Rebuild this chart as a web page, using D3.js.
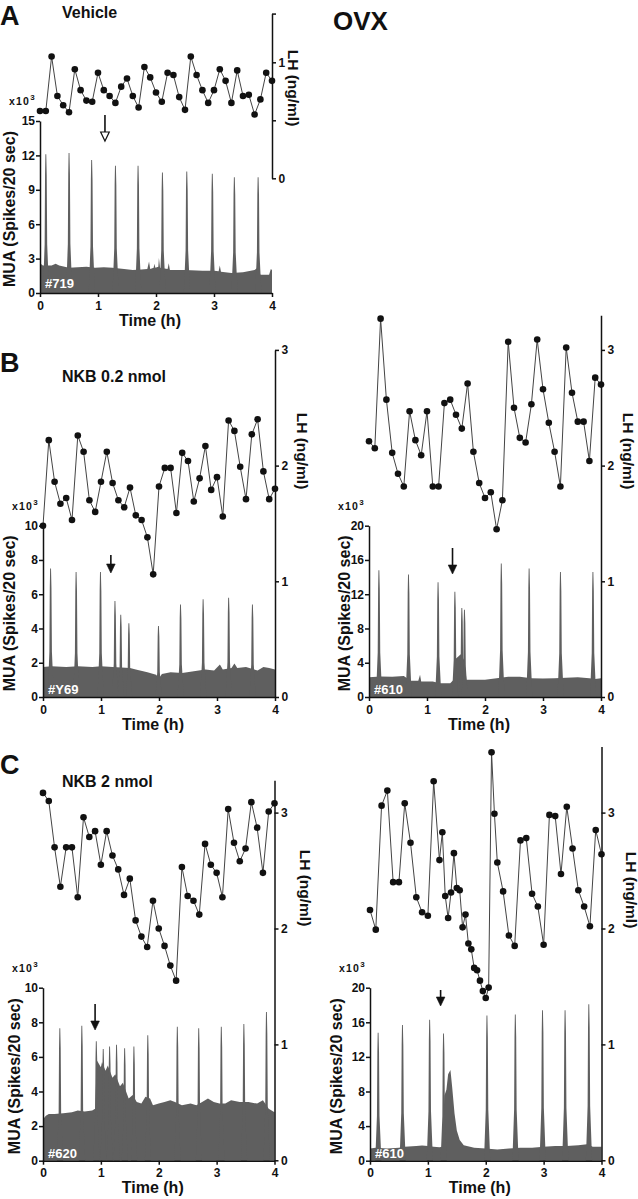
<!DOCTYPE html>
<html>
<head>
<meta charset="utf-8">
<script src="https://cdn.jsdelivr.net/npm/d3@7"></script>
<style>
  body { margin: 0; background: #fff; }
  svg { display: block; font-family: "Liberation Sans", Arial, Helvetica, sans-serif; font-weight: bold; }
</style>
</head>
<body>
<div id="chart"></div>
<script>
// ---- data ----
// LH sampling times (h), every 6 min
const lhTimes = [0,0.1,0.2,0.3,0.4,0.5,0.6,0.7,0.8,0.9,1.0,1.1,1.2,1.3,1.4,1.5,1.6,1.7,1.8,1.9,2.0,
  2.1,2.2,2.3,2.4,2.5,2.6,2.7,2.8,2.9,3.0,3.1,3.2,3.3,3.4,3.5,3.6,3.7,3.8,3.9,4.0];
// C right: denser sampling after injection
const lhTimesCR = [0,0.1,0.2,0.3,0.4,0.5,0.6,0.7,0.8,0.9,1.0,1.1,1.2,
  1.25,1.3,1.35,1.4,1.45,1.5,1.55,1.6,1.65,1.7,1.75,1.8,1.85,1.9,1.95,2.0,2.05,2.1,2.15,2.2,
  2.3,2.4,2.5,2.6,2.7,2.8,2.9,3.0,3.1,3.2,3.3,3.4,3.5,3.6,3.7,3.8,3.9,4.0];

// LH (ng/ml)
const lhA  = [0.58,0.58,1.05,0.71,0.63,0.57,0.94,0.76,0.67,0.66,0.91,0.76,0.71,0.65,0.79,0.86,0.71,0.61,0.96,0.87,0.74,
  0.66,0.91,0.89,0.70,0.59,1.05,0.89,0.76,0.65,0.76,0.94,0.84,0.65,0.93,0.71,0.72,0.55,0.68,0.91,0.84];
const lhBL = [1.48,2.22,1.86,1.67,1.72,1.53,2.26,2.12,1.70,1.60,1.86,2.12,1.85,1.70,1.64,1.81,1.57,1.53,1.38,1.06,1.82,
  1.98,1.98,1.59,2.11,2.04,1.69,1.89,2.17,1.79,1.90,1.56,2.39,2.30,1.99,1.71,2.27,2.40,1.95,1.71,1.80];
const lhBR = [2.21,2.15,3.27,2.57,2.11,1.93,1.82,2.47,2.22,2.09,2.47,1.82,1.82,2.54,2.57,2.44,2.32,2.71,2.12,1.85,1.72,
  1.77,1.45,1.70,3.07,2.50,2.24,2.20,2.53,3.09,2.66,2.37,2.12,1.82,3.02,2.63,2.38,2.38,2.04,2.76,2.70];
const lhCL = [3.17,3.10,2.70,2.36,2.70,2.70,2.27,2.96,2.79,2.84,2.55,2.84,2.63,2.51,2.29,2.43,2.07,1.93,1.84,2.24,2.00,
  1.85,1.68,1.55,2.53,2.28,2.24,2.12,2.73,2.55,2.48,2.27,3.03,2.74,2.58,2.69,3.09,2.87,2.48,3.01,3.08];
const lhCR = [2.16,1.99,3.06,3.19,2.40,2.40,3.08,2.74,2.27,2.14,2.11,3.27,2.59,
  2.83,2.28,2.09,2.31,2.65,2.35,2.33,2.01,2.12,1.87,1.82,1.66,1.64,1.55,1.46,1.40,1.49,3.52,2.99,2.57,
  2.32,1.94,1.85,2.76,2.78,2.30,2.19,1.86,2.98,2.97,2.47,3.05,2.69,2.33,2.19,2.02,2.85,2.64];

// MUA background level, [time h, spikes x10^3]
const muaBaseA = [[0,2.6],[0.05,2.4],[0.2,2.4],[0.27,2.55],[0.33,2.4],[0.5,2.2],[0.8,2.3],[0.95,2.2],[1.1,2.25],
  [1.25,2.2],[1.45,2.1],[1.6,2.0],[1.75,2.05],[1.85,2.1],[1.88,2.75],[1.9,2.1],[1.96,2.2],[1.97,2.55],[1.99,2.2],
  [2.04,2.3],[2.05,3.05],[2.07,2.2],[2.2,2.1],[2.22,2.6],[2.24,2.0],[2.5,2.0],[2.8,1.95],[3.0,1.95],[3.08,1.9],
  [3.1,2.4],[3.12,1.85],[3.3,1.75],[3.5,1.8],[3.7,2.0],[3.75,2.2],[3.8,1.6],[3.95,1.6],[3.98,2.1],[4.0,2.0]];
const muaBaseBL = [[0,1.75],[0.15,1.8],[0.4,1.75],[0.6,1.8],[0.85,1.75],[1.0,1.8],[1.2,1.75],[1.5,1.7],[1.6,1.6],
  [1.8,1.45],[1.95,1.3],[2.0,1.1],[2.05,1.35],[2.2,1.45],[2.4,1.4],[2.6,1.5],[2.8,1.6],[2.95,1.55],[3.05,1.9],
  [3.1,1.6],[3.25,1.7],[3.3,1.95],[3.35,1.7],[3.5,1.75],[3.7,1.55],[3.8,1.75],[3.9,1.7],[4.0,1.6]];
const muaBaseBR = [[0,2.3],[0.2,2.4],[0.4,2.35],[0.6,2.45],[0.72,1.9],[0.85,1.9],[0.88,2.6],[0.9,1.8],[1.1,1.8],
  [1.22,1.6],[1.4,1.6],[1.46,2.0],[1.5,4.5],[1.55,4.8],[1.58,5.0],[1.65,4.2],[1.68,2.0],[1.8,2.0],[2.0,2.0],
  [2.2,2.2],[2.4,2.35],[2.6,2.35],[2.8,2.2],[3.0,2.15],[3.2,2.2],[3.4,2.25],[3.6,2.3],[3.8,2.2],[3.9,2.1],[4.0,2.2]];
const muaBaseCL = [[0,2.4],[0.05,2.6],[0.1,2.7],[0.2,2.7],[0.35,2.75],[0.5,2.8],[0.6,2.9],[0.72,2.85],[0.85,2.9],
  [0.9,3.0],[0.93,5.8],[1.0,5.4],[1.02,5.7],[1.08,5.2],[1.12,5.5],[1.2,4.8],[1.25,5.0],[1.33,4.3],[1.38,4.5],
  [1.48,3.6],[1.55,3.8],[1.62,3.4],[1.7,3.3],[1.77,3.7],[1.85,3.6],[1.9,3.2],[2.0,3.3],[2.1,3.4],[2.2,3.5],
  [2.28,3.4],[2.4,3.2],[2.55,3.3],[2.65,3.2],[2.75,3.4],[2.85,3.6],[2.95,3.4],[3.05,3.3],[3.15,3.3],[3.25,3.5],
  [3.4,3.4],[3.55,3.4],[3.7,3.3],[3.8,3.5],[3.9,3.0],[4.0,2.8]];
const muaBaseCR = [[0,1.4],[0.1,1.5],[0.3,1.4],[0.5,1.5],[0.6,1.6],[0.8,1.7],[0.9,1.75],[1.0,1.7],[1.1,1.6],
  [1.2,1.55],[1.25,1.6],[1.285,7.5],[1.32,8.2],[1.35,10.0],[1.39,10.5],[1.42,8.5],[1.46,5.5],[1.5,3.5],[1.55,2.4],
  [1.62,1.8],[1.8,1.5],[2.0,1.4],[2.2,1.3],[2.4,1.4],[2.6,1.5],[2.8,1.5],[3.0,1.6],[3.2,1.7],[3.4,1.7],[3.6,1.8],
  [3.75,1.9],[3.85,1.6],[4.0,1.6]];

// MUA volleys, [time h, peak x10^3]
const peaksA  = [[0.10,12.1],[0.50,12.2],[0.89,11.6],[1.30,11.1],[1.69,11.1],[2.11,10.5],[2.53,10.6],[2.97,10.4],[3.35,10.1],[3.76,10.1]];
const peaksBL = [[0.13,7.5],[0.57,7.3],[0.99,7.3],[1.24,5.6],[1.34,4.8],[1.48,4.3],[1.99,4.15],[2.37,5.4],[2.76,5.7],[3.20,5.8],[3.61,5.4]];
const peaksBR = [[0.17,14.8],[0.68,14.3],[1.19,13.4],[1.48,12.3],[1.60,10.4],[1.645,10.2],[2.28,15.6],[2.76,15.0],[3.30,14.6],[3.86,14.6]];
const peaksCL = [[0.29,7.65],[0.67,7.8],[0.92,6.9],[1.04,6.45],[1.15,6.6],[1.27,6.7],[1.41,6.5],[1.57,6.6],[1.81,7.25],
  [2.32,7.75],[2.69,7.65],[3.08,7.75],[3.47,7.9],[3.86,8.6]];
const peaksCR = [[0.14,14.8],[0.56,15.7],[1.03,16.3],[1.27,14.7],[2.02,16.8],[2.51,16.9],[2.98,17.4],[3.37,17.4],[3.78,18.1]];

// injection times (h)
const injA = 1.12, injBL = 1.17, injBR = 1.44, injCL = 0.90, injCR = 1.22;

const timeTicks = [0, 1, 2, 3, 4];
const muaTicks10 = [0, 2, 4, 6, 8, 10];
const muaTicks15 = [0, 3, 6, 9, 12, 15];
const muaTicks20 = [0, 4, 8, 12, 16, 20];
const lhTicksA = [0, 0.5, 1, 1.42];
const lhTicks3 = [0, 1, 2, 3];

// ---- drawing ----
const ink = "#111";
const muaColor = "#5f5f5f";
const spikeW = 0.05;

const svg = d3.select("#chart").append("svg")
    .attr("width", 638)
    .attr("height", 1199);

function drawPanel(p) {
  const g = svg.append("g");

  const x = d3.scaleLinear().domain([0, 4]).range([p.x0, p.x1]);
  const yM = d3.scaleLinear().domain([0, p.muaMax]).range([p.y0, p.muaTopPx]);
  const yL = d3.scaleLinear().domain([0, p.lhTop]).range([p.lh0, p.lh0 - p.lhTop * p.lhUnit]);

  const area = d3.area()
      .x(d => x(d[0]))
      .y0(yM(0))
      .y1(d => yM(d[1]));

  g.append("path")
      .datum(p.base)
      .attr("fill", muaColor)
      .attr("d", area);

  // each volley: narrow column with a flared foot
  g.selectAll("path.spike")
    .data(p.peaks)
    .join("path")
      .attr("class", "spike")
      .attr("fill", muaColor)
      .attr("d", d => area([
        [d[0] - spikeW, 0],
        [d[0] - 0.02, d[1] * 0.35],
        [d[0] - 0.013, d[1] * 0.85],
        [d[0] - 0.007, d[1]],
        [d[0] + 0.008, d[1]],
        [d[0] + 0.016, d[1] * 0.85],
        [d[0] + 0.024, d[1] * 0.35],
        [d[0] + spikeW * 1.15, 0]
      ]));

  // axes
  const styleAxis = sel => {
    sel.attr("font-family", null).attr("font-size", 12);
    sel.selectAll("path, line").attr("stroke", ink).attr("stroke-width", 1.5);
    sel.selectAll("text").attr("fill", ink);
  };

  g.append("g")
      .attr("transform", `translate(${p.x0},0)`)
      .call(d3.axisLeft(yM).tickValues(p.muaTicks).tickSize(4).tickSizeOuter(0).tickPadding(1)
        .tickFormat(d3.format("d")))
      .call(styleAxis);

  g.append("g")
      .attr("transform", `translate(0,${p.y0})`)
      .call(d3.axisBottom(x).tickValues(timeTicks).tickSize(4).tickSizeOuter(0).tickPadding(4)
        .tickFormat(d3.format("d")))
      .call(styleAxis);

  g.append("g")
      .attr("transform", `translate(${p.x1},0)`)
      .call(d3.axisRight(yL).tickValues(p.lhTicks).tickSize(4).tickSizeOuter(0).tickPadding(2.5)
        .tickFormat(d => p.lhLabeled.includes(d) ? d : ""))
      .call(styleAxis);

  // LH series
  const pts = p.lhT.map((t, i) => [t, p.lh[i]]);
  g.append("path")
      .datum(pts)
      .attr("fill", "none")
      .attr("stroke", "#444")
      .attr("stroke-width", 1)
      .attr("d", d3.line().x(d => x(d[0])).y(d => yL(d[1])));

  g.selectAll("circle")
    .data(pts)
    .join("circle")
      .attr("cx", d => x(d[0]))
      .attr("cy", d => yL(d[1]))
      .attr("r", 3.3)
      .attr("fill", ink);

  // injection arrow
  const ax = x(p.inj), head = 9, hw = 4.3;
  g.append("line")
      .attr("x1", ax).attr("x2", ax)
      .attr("y1", p.arrowY[0]).attr("y2", p.arrowY[1] - head + 1)
      .attr("stroke", ink).attr("stroke-width", 1.6);
  g.append("path")
      .attr("d", `M${ax - hw},${p.arrowY[1] - head}L${ax + hw},${p.arrowY[1] - head}L${ax},${p.arrowY[1]}Z`)
      .attr("fill", p.hollow ? "#fff" : ink)
      .attr("stroke", ink)
      .attr("stroke-width", p.hollow ? 1.2 : 0.6);

  // labels
  g.append("text")
      .attr("x", p.x0 + 5).attr("y", p.y0 + p.tagDy)
      .attr("fill", "#fff").attr("font-size", 13)
      .text(p.tag);

  const mult = g.append("text")
      .attr("x", p.x0 - 31).attr("y", p.muaTopPx - 16)
      .attr("font-size", 10.5).attr("letter-spacing", 1.2).attr("fill", ink)
      .text("x10");
  mult.append("tspan").attr("dy", -5).attr("font-size", 8).text("3");

  g.append("text")
      .attr("x", (p.x0 + p.x1) / 2 - 6).attr("y", p.y0 + 32.5)
      .attr("text-anchor", "middle").attr("font-size", 16).attr("fill", ink)
      .text("Time (h)");

  g.append("text")
      .attr("transform", `translate(${p.muaLabelX},${(p.y0 + p.muaTopPx) / 2 + 2}) rotate(-90)`)
      .attr("text-anchor", "middle").attr("dominant-baseline", "central")
      .attr("font-size", 16).attr("fill", ink)
      .text("MUA (Spikes/20 sec)");

  g.append("text")
      .attr("transform", `translate(${p.lhLabelX},${p.lhLabelY}) rotate(90)`)
      .attr("text-anchor", "middle").attr("dominant-baseline", "central")
      .attr("font-size", 15.5).attr("fill", ink)
      .text("LH (ng/ml)");
}

const panels = [
  { x0: 40, x1: 272, y0: 293, muaMax: 15, muaTopPx: 121, muaTicks: muaTicks15,
    lh0: 178.3, lhUnit: 116, lhTop: 1.42, lhTicks: lhTicksA, lhLabeled: [0, 1],
    lhT: lhTimes, lh: lhA, base: muaBaseA, peaks: peaksA, inj: injA, arrowY: [115, 141], hollow: true,
    tag: "#719", tagDy: -5, muaLabelX: 9, lhLabelX: 293, lhLabelY: 88 },
  { x0: 43, x1: 275, y0: 697, muaMax: 10, muaTopPx: 525.7, muaTicks: muaTicks10,
    lh0: 697, lhUnit: 115.7, lhTop: 3, lhTicks: lhTicks3, lhLabeled: lhTicks3,
    lhT: lhTimes, lh: lhBL, base: muaBaseBL, peaks: peaksBL, inj: injBL, arrowY: [555, 573], hollow: false,
    tag: "#Y69", tagDy: -3, muaLabelX: 9, lhLabelX: 302, lhLabelY: 451 },
  { x0: 369, x1: 601, y0: 697, muaMax: 20, muaTopPx: 525.7, muaTicks: muaTicks20,
    lh0: 697, lhUnit: 115.7, lhTop: 3.3, lhTicks: lhTicks3, lhLabeled: lhTicks3,
    lhT: lhTimes, lh: lhBR, base: muaBaseBR, peaks: peaksBR, inj: injBR, arrowY: [548, 574], hollow: false,
    tag: "#610", tagDy: -3, muaLabelX: 344, lhLabelX: 628, lhLabelY: 451 },
  { x0: 43, x1: 274.5, y0: 1160.7, muaMax: 10, muaTopPx: 987.7, muaTicks: muaTicks10,
    lh0: 1160.3, lhUnit: 115.9, lhTop: 3.28, lhTicks: lhTicks3, lhLabeled: lhTicks3,
    lhT: lhTimes, lh: lhCL, base: muaBaseCL, peaks: peaksCL, inj: injCL, arrowY: [1004, 1030], hollow: false,
    tag: "#620", tagDy: -3, muaLabelX: 14, lhLabelX: 305, lhLabelY: 888 },
  { x0: 370, x1: 601.5, y0: 1160.7, muaMax: 20, muaTopPx: 987.7, muaTicks: muaTicks20,
    lh0: 1160.3, lhUnit: 115.9, lhTop: 3.57, lhTicks: lhTicks3, lhLabeled: lhTicks3,
    lhT: lhTimesCR, lh: lhCR, base: muaBaseCR, peaks: peaksCR, inj: injCR, arrowY: [990, 1006], hollow: false,
    tag: "#610", tagDy: -3, muaLabelX: 336, lhLabelX: 631, lhLabelY: 890 }
];

panels.forEach(drawPanel);

// panel letters and titles
const titles = [
  { text: "A", x: 0, y: 25, size: 27 },
  { text: "Vehicle", x: 62, y: 17.5, size: 16 },
  { text: "OVX", x: 333, y: 30, size: 26 },
  { text: "B", x: 0, y: 372, size: 27 },
  { text: "NKB 0.2 nmol", x: 62, y: 382, size: 16 },
  { text: "C", x: 0, y: 774, size: 27 },
  { text: "NKB 2 nmol", x: 62, y: 786.5, size: 16 }
];

svg.selectAll("text.title")
  .data(titles)
  .join("text")
    .attr("class", "title")
    .attr("x", d => d.x)
    .attr("y", d => d.y)
    .attr("font-size", d => d.size)
    .attr("fill", ink)
    .text(d => d.text);
</script>
</body>
</html>
